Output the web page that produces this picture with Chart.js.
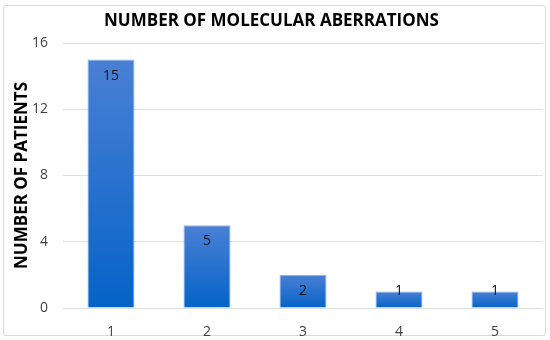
<!DOCTYPE html>
<html><head><meta charset="utf-8">
<script src="https://cdn.jsdelivr.net/npm/chart.js@4/dist/chart.umd.min.js"></script>
<style>
html,body{margin:0;padding:0;background:#fff;}
#wrap{position:relative;width:550px;height:340px;}
#frame{position:absolute;left:3px;top:5px;width:543px;height:331px;border:1px solid #d9d9d9;border-radius:3px;box-sizing:border-box;}
canvas{position:absolute;left:0;top:0;}
</style></head>
<body><div id="wrap"><div id="frame"></div><canvas id="c" width="550" height="340"></canvas></div>
<script>
const categories = ["1","2","3","4","5"];
const patients = [15,5,2,1,1];
const yTicks = [0,4,8,12,16];
const chartTitle = "NUMBER OF MOLECULAR ABERRATIONS";
const yTitle = "NUMBER OF PATIENTS";

const FONT = "'Open Sans', 'Liberation Sans', sans-serif";

const labelPlugin = {
  id: 'barLabels',
  afterDatasetsDraw(chart){
    const ctx = chart.ctx;
    const meta = chart.getDatasetMeta(0);
    ctx.save();
    ctx.font = "14px " + FONT;
    ctx.fillStyle = "#111";
    ctx.textAlign = "center";
    ctx.textBaseline = "middle";
    meta.data.forEach((bar, i) => {
      const cy = Math.min(bar.y + 16, bar.base - 16);
      ctx.fillText(String(chart.data.datasets[0].data[i]), bar.x, cy);
    });
    ctx.restore();
  }
};

new Chart(document.getElementById('c'), {
  type: 'bar',
  data: {
    labels: categories,
    datasets: [{
      data: patients,
      backgroundColor: (ctx) => {
        const chart = ctx.chart;
        const ys = chart.scales && chart.scales.y;
        if (!chart.chartArea || !ys || ctx.type !== 'data') return '#2a72d0';
        const top = ys.getPixelForValue(ctx.raw);
        const bot = ys.getPixelForValue(0);
        if (!isFinite(top) || !isFinite(bot) || bot - top < 1) return '#2a72d0';
        const g = chart.ctx.createLinearGradient(0, top, 0, bot);
        g.addColorStop(0, '#4a80d4');
        g.addColorStop(1, '#0563c8');
        return g;
      },
      borderColor: '#8fb4ea',
      borderWidth: 1,
      categoryPercentage: 1.0,
      barPercentage: 0.49
    }]
  },
  options: {
    responsive: false,
    animation: false,
    devicePixelRatio: 1,
    layout: { padding: { left: 0, right: 7, top: 0, bottom: 2 } },
    plugins: {
      legend: { display: false },
      tooltip: { enabled: false },
      title: {
        display: true, text: chartTitle, color: '#000',
        font: { family: FONT, size: 17, weight: 'bold' },
        padding: { top: 11, bottom: 11.6 }
      }
    },
    scales: {
      x: {
        grid: { display: false },
        border: { display: false },
        ticks: { color: '#404040', font: { family: FONT, size: 14 }, padding: 8 },
        afterFit: (axis) => { axis.height = 30; }
      },
      y: {
        min: 0, max: 16,
        afterBuildTicks: (axis) => { axis.ticks = yTicks.map(v => ({ value: v })); },
        grid: { color: '#dcdfe6', lineWidth: 1, drawTicks: false },
        border: { display: false },
        ticks: { color: '#404040', font: { family: FONT, size: 14 }, padding: 15 },
        title: { display: true, text: yTitle, color: '#000', font: { family: FONT, size: 17, weight: 'bold' }, padding: { top: 12, bottom: 0 } },
        afterFit: (axis) => { axis.width = 63; }
      }
    }
  },
  plugins: [labelPlugin]
});
</script></body></html>
